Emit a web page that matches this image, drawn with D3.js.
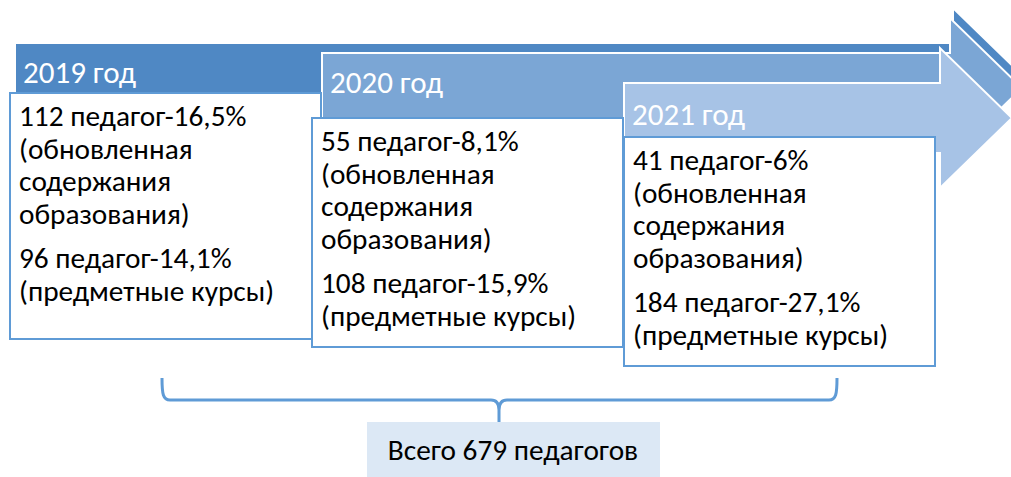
<!DOCTYPE html>
<html>
<head>
<meta charset="utf-8">
<script src="https://cdn.jsdelivr.net/npm/d3@7"></script>
<style>
  body { margin: 0; background: #fff; }
  svg { display: block; }
</style>
</head>
<body>
<div id="chart"></div>
<script>
// values
const years = ["2019 год", "2020 год", "2021 год"];
const updatedCount = [112, 55, 41];
const updatedPct = [16.5, 8.1, 6];
const courseCount = [96, 108, 184];
const coursePct = [14.1, 15.9, 27.1];
const updatedLabel = ["(обновленная", "содержания", "образования)"];
const courseLabel = ["(предметные курсы)"];
const total = 679;

const width = 1011;
const height = 477;
const font = "Calibri, Carlito, 'Noto Sans', sans-serif";
const colors = ["#4f88c4", "#7ba6d5", "#a7c3e6"];
const lineBlue = "#5f9bd6";

const svg = d3.select("#chart")
    .append("svg")
    .attr("width", width)
    .attr("height", height)
    .attr("viewBox", `0 0 ${width} ${height}`);

const steps = d3.range(years.length);

// step layout scales (index -> px)
const arrowLeft = d3.scaleLinear().domain([0, 1, 2]).range([15, 322, 624]);
const arrowMid = d3.scaleLinear().domain([0, 1, 2]).range([78, 88, 118]);
const headBase = d3.scaleLinear().domain([0, 1, 2]).range([953, 950, 940]);
const boxLeft = d3.scaleLinear().domain([0, 1, 2]).range([10, 312, 624]);
const boxTop = d3.scaleLinear().domain([0, 1, 2]).range([93, 118, 137]);
const boxBottom = d3.scaleLinear().domain([0, 1, 2]).range([339, 347, 366]);
const headerBase = d3.scaleLinear().domain([0, 1, 2]).range([83, 93, 125]);
const boxWidth = 311;
const bodyHalf = 35, headHalf = 70, headLen = 72;

const fmt = v => String(v).replace(".", ",");

const arrowPath = i => {
    const p = d3.path();
    const x0 = arrowLeft(i), c = arrowMid(i), xb = headBase(i);
    p.moveTo(x0, c - bodyHalf);
    p.lineTo(xb, c - bodyHalf);
    p.lineTo(xb, c - headHalf);
    p.lineTo(xb + headLen, c);
    p.lineTo(xb, c + headHalf);
    p.lineTo(xb, c + bodyHalf);
    p.lineTo(x0, c + bodyHalf);
    p.closePath();
    return p.toString();
};

const step = svg.selectAll("g.step").data(steps)
    .enter().append("g")
    .attr("class", "step");

// arrows first, all of them
svg.selectAll("path.arrow").data(steps)
    .enter().insert("path", "g.step")
    .attr("class", "arrow")
    .attr("d", arrowPath)
    .attr("fill", i => colors[i])
    .attr("stroke", "#fff")
    .attr("stroke-width", 2);

step.append("text")
    .attr("x", i => arrowLeft(i) + 8)
    .attr("y", i => headerBase(i))
    .attr("font-family", font)
    .attr("font-size", 31)
    .attr("fill", "#fff")
    .text(i => years[i]);

step.append("rect")
    .attr("x", i => boxLeft(i))
    .attr("y", i => boxTop(i))
    .attr("width", boxWidth)
    .attr("height", i => boxBottom(i) - boxTop(i))
    .attr("fill", "#fff")
    .attr("stroke", lineBlue)
    .attr("stroke-width", 2);

const lineOffsets = [0, 32.5, 65, 97.5, 142, 174.5];

step.each(function (i) {
    const lines = [
        `${updatedCount[i]} педагог-${fmt(updatedPct[i])}%`,
        ...updatedLabel,
        `${courseCount[i]} педагог-${fmt(coursePct[i])}%`,
        ...courseLabel
    ];
    d3.select(this).selectAll("text.item").data(lines)
        .enter().append("text")
        .attr("class", "item")
        .attr("x", boxLeft(i) + 9)
        .attr("y", (d, k) => boxTop(i) + 33 + lineOffsets[k])
        .attr("font-family", font)
        .attr("font-size", 29.3)
        .attr("fill", "#000")
        .text(d => d);
});

// brace under the three steps
const brace = d3.path();
const bx0 = 162, bx1 = 837, bTop = 378, bY = 400, bx = 499, bEnd = 422;
brace.moveTo(bx0, bTop);
brace.bezierCurveTo(bx0, bY - 6, bx0 + 1, bY, bx0 + 8, bY);
brace.lineTo(bx - 8, bY);
brace.bezierCurveTo(bx - 2, bY, bx, bY + 4, bx, bY + 10);
brace.lineTo(bx, bEnd);
brace.moveTo(bx, bY + 10);
brace.bezierCurveTo(bx, bY + 4, bx + 2, bY, bx + 8, bY);
brace.lineTo(bx1 - 8, bY);
brace.bezierCurveTo(bx1 - 1, bY, bx1, bY - 6, bx1, bTop);

svg.append("path")
    .attr("d", brace.toString())
    .attr("fill", "none")
    .attr("stroke", lineBlue)
    .attr("stroke-width", 3);

svg.append("rect")
    .attr("x", 367)
    .attr("y", 422)
    .attr("width", 293)
    .attr("height", 56)
    .attr("fill", "#dce8f5");

svg.append("text")
    .attr("x", 513)
    .attr("y", 460)
    .attr("text-anchor", "middle")
    .attr("font-family", font)
    .attr("font-size", 29.3)
    .attr("fill", "#000")
    .text(`Всего ${total} педагогов`);
</script>
</body>
</html>
